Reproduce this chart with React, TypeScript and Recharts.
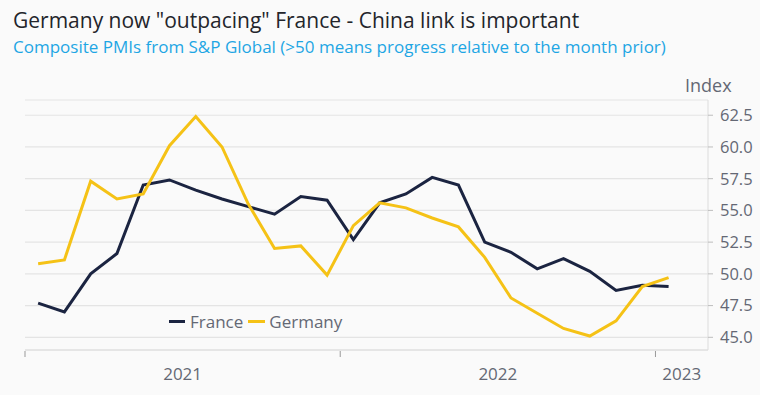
import React from 'react';
import { LineChart, Line, XAxis, YAxis, CartesianGrid } from 'recharts';

// Monthly composite PMI, Jan 2021 .. Jan 2023
const months = [
  '2021-01', '2021-02', '2021-03', '2021-04', '2021-05', '2021-06', '2021-07', '2021-08', '2021-09', '2021-10', '2021-11', '2021-12',
  '2022-01', '2022-02', '2022-03', '2022-04', '2022-05', '2022-06', '2022-07', '2022-08', '2022-09', '2022-10', '2022-11', '2022-12',
  '2023-01',
];
const france = [
  47.7, 47.0, 50.0, 51.6, 57.0, 57.4, 56.6, 55.9, 55.3, 54.7, 56.1, 55.8,
  52.7, 55.6, 56.3, 57.6, 57.0, 52.5, 51.7, 50.4, 51.2, 50.2, 48.7, 49.1,
  49.0,
];
const germany = [
  50.8, 51.1, 57.3, 55.9, 56.3, 60.1, 62.4, 60.0, 55.5, 52.0, 52.2, 49.9,
  53.8, 55.6, 55.2, 54.4, 53.7, 51.3, 48.1, 46.9, 45.7, 45.1, 46.3, 49.0,
  49.7,
];
const yearLabels = ['2021', '2022', '2023'];
const yearLabelPositions = [5.5, 17.5, 24.5];
const yearBoundaries = [-0.5, 11.5, 23.5];
const yTicks = [45, 47.5, 50, 52.5, 55, 57.5, 60, 62.5];
const seriesNames = ['France', 'Germany'];

const data = months.map((m, i) => ({ idx: i, month: m, France: france[i], Germany: germany[i] }));

const FONT = '"Open Sans", "Noto Sans", sans-serif';
const NAVY = '#1b2441';
const GOLD = '#f5c216';
const GRAY_TEXT = '#646874';

const XTick = (props: any) => {
  const { x, y, payload } = props;
  const v = payload.value;
  const li = yearLabelPositions.indexOf(v);
  if (li >= 0) {
    return (
      <text x={x} y={y + 30} textAnchor="middle" fontSize={17} fill={GRAY_TEXT} fontFamily={FONT}>
        {yearLabels[li]}
      </text>
    );
  }
  return <line x1={x} x2={x} y1={y + 1} y2={y + 7} stroke="#999" strokeWidth={1} />;
};

export default function App() {
  return (
    <div style={{ position: 'absolute', left: 0, top: 0, width: 760, height: 395, background: '#fafafa', overflow: 'hidden' }}>
      <div style={{ position: 'absolute', left: 13, top: 6, fontFamily: FONT, fontSize: 21, fontWeight: 500, color: '#23252b', whiteSpace: 'nowrap' }}>
        Germany now "outpacing" France - China link is important
      </div>
      <div style={{ position: 'absolute', left: 13, top: 35, fontFamily: FONT, fontSize: 17, color: '#1ea6e4', whiteSpace: 'nowrap' }}>
        Composite PMIs from S&amp;P Global (&gt;50 means progress relative to the month prior)
      </div>
      <div style={{ position: 'absolute', left: 685, top: 73, fontFamily: FONT, fontSize: 18, color: GRAY_TEXT }}>
        Index
      </div>
      <div style={{ position: 'absolute', left: 0, top: 0 }}>
        <LineChart width={760} height={395} data={data} margin={{ top: 100, right: 0, left: 25, bottom: 15 }}>
          <CartesianGrid vertical={false} stroke="#e4e4e4" strokeWidth={1.2} />
          <XAxis
            dataKey="idx"
            type="number"
            domain={[-0.5, 25.5]}
            ticks={[...yearBoundaries, ...yearLabelPositions].sort((a, b) => a - b)}
            interval={0}
            allowDataOverflow
            height={30}
            tickSize={0}
            tickMargin={0}
            tickLine={false}
            axisLine={{ stroke: '#dcdcdc' }}
            tick={<XTick />}
          />
          <YAxis
            orientation="right"
            width={52}
            domain={[44, 63.7]}
            ticks={yTicks}
            interval={0}
            allowDataOverflow
            tickFormatter={(v: number) => v.toFixed(1)}
            axisLine={{ stroke: '#dcdcdc' }}
            tickLine={{ stroke: '#bdbdbd' }}
            tickSize={5}
            tickMargin={7}
            tick={{ fill: GRAY_TEXT, fontSize: 16.5, fontFamily: FONT }}
          />
          <Line type="linear" dataKey="France" stroke={NAVY} strokeWidth={3} dot={false} isAnimationActive={false} />
          <Line type="linear" dataKey="Germany" stroke={GOLD} strokeWidth={3} dot={false} isAnimationActive={false} />
        </LineChart>
      </div>
      <div style={{ position: 'absolute', left: 169, top: 310, display: 'flex', alignItems: 'center', fontFamily: FONT, fontSize: 17, color: GRAY_TEXT, whiteSpace: 'nowrap' }}>
        <span style={{ display: 'inline-block', width: 16, height: 3, background: NAVY, marginRight: 5 }} />
        <span style={{ marginRight: 5 }}>{seriesNames[0]}</span>
        <span style={{ display: 'inline-block', width: 17, height: 3, background: GOLD, marginRight: 4 }} />
        <span>{seriesNames[1]}</span>
      </div>
    </div>
  );
}
